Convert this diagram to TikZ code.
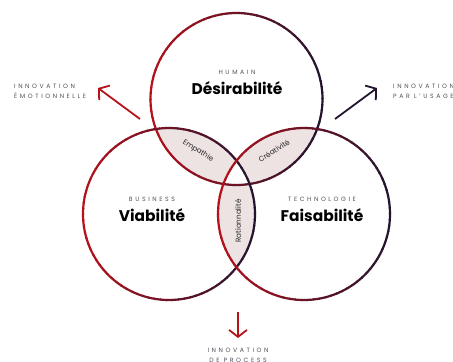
\documentclass[tikz,border=0pt]{standalone}
\usepackage{fontspec}
\setmainfont{Poppins}
\usetikzlibrary{arrows.meta, positioning, calc}
\definecolor{vred}{HTML}{B5121B}
\definecolor{vdark}{HTML}{22142F}
\definecolor{vpink}{HTML}{EDE3E3}
\definecolor{vgray}{HTML}{50505A}
\tikzset{
  ring/.style   = {line width=2.2bp},
  lens/.style   = {fill=vpink},
  cat/.style    = {font=\fontsize{6.2}{10}\selectfont\addfontfeatures{LetterSpace=42},
                   text=vgray, inner sep=0pt},
  outlbl/.style = {cat, align=left},
  word/.style   = {font=\fontsize{15.5}{17}\selectfont\bfseries, text=black, inner sep=0pt},
  inter/.style  = {font=\fontsize{7.3}{8}\selectfont, text=black!85, inner sep=0pt},
  arr/.style    = {-{Straight Barb[length=7pt, width=18pt]}, line width=1.8pt}
}
\def\rr{86bp}

\begin{document}
\begin{tikzpicture}[x=1bp, y=-1bp]
  \useasboundingbox (0,0) rectangle (453,361);
  \clip (0,0) rectangle (453,361);

  % ── circle centres ──────────────────────────────────────────────
  \coordinate (Hum)  at (236.5,99);
  \coordinate (Bus)  at (169,214);
  \coordinate (Tech) at (304,214);

  % ── pairwise lenses ─────────────────────────────────────────────
  \begin{scope}
    \clip (Hum) circle[radius=\rr];
    \fill[lens] (Bus) circle[radius=\rr];
    \fill[lens] (Tech) circle[radius=\rr];
  \end{scope}
  \begin{scope}
    \clip (Bus) circle[radius=\rr];
    \fill[lens] (Tech) circle[radius=\rr];
  \end{scope}
  % centre stays white
  \begin{scope}
    \clip (Hum) circle[radius=\rr];
    \clip (Bus) circle[radius=\rr];
    \fill[white] (Tech) circle[radius=\rr];
  \end{scope}

  % ── rings, red on the left fading to dark on the right ──────────
  \foreach \c in {Hum, Bus, Tech}
    \foreach \a in {0,4,...,356} {
      \pgfmathsetmacro\mix{50+50*cos(\a+2)}
      \draw[ring, vdark!\mix!vred] (\c) ++(\a:\rr)
        arc[start angle=\a, end angle=\a+4.6, radius=\rr];
    }

  % ── main labels ─────────────────────────────────────────────────
  \node[word] (desir) at (237,88) {Désirabilité};
  \node[cat, above=7pt of desir] (humain) {HUMAIN};
  \node[word] (viab) at (152,215) {Viabilité};
  \node[cat, above=7pt of viab] (business) {BUSINESS};
  \node[word] (faisa) at (322,215) {Faisabilité};
  \node[cat, above=7pt of faisa] (techno) {TECHNOLOGIE};

  % ── lens labels ─────────────────────────────────────────────────
  \node[inter, rotate=-32] (empa)  at (198,151) {Empathie};
  \node[inter, rotate=32]  (creat) at (274,151) {Créativité};
  \node[inter, rotate=90]  (ratio) at (238,221) {Rationnalité};

  % ── outcomes ────────────────────────────────────────────────────
  \node[outlbl, anchor=west] (emo)    at (14,91)  {INNOVATION\\ÉMOTIONNELLE};
  \node[outlbl, anchor=west] (usage)  at (393,91) {INNOVATION\\PAR L'USAGE};
  \node[outlbl, align=center, anchor=north] (proc) at (238,348) {INNOVATION\\DE PROCESS};

  \coordinate (emoA)  at (140,119);
  \coordinate (emoB)  at (98,88);
  \coordinate (usaA)  at (335,119);
  \coordinate (usaB)  at (377,88);
  \coordinate (procA) at (238,312);
  \coordinate (procB) at (238,338);
  \draw[arr, vred]  (emoA)  -- (emoB);
  \draw[arr, vdark] (usaA)  -- (usaB);
  \draw[arr, vred]  (procA) -- (procB);

\end{tikzpicture}
\end{document}
